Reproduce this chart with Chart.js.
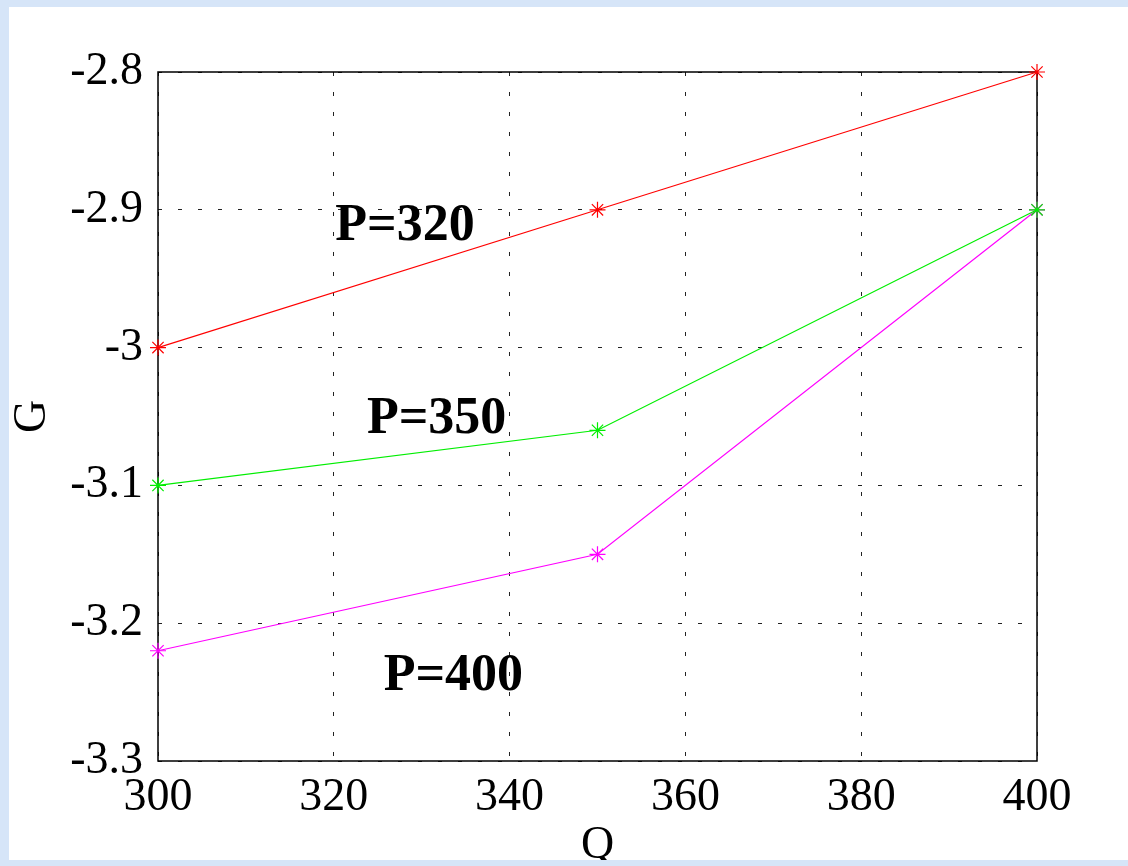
<!DOCTYPE html>
<html>
<head>
<meta charset="utf-8">
<script src="https://cdn.jsdelivr.net/npm/chart.js@4/dist/chart.umd.min.js"></script>
<style>
    html, body { margin: 0; padding: 0; }
    body { width: 1128px; height: 866px; background: #d6e5f8; overflow: hidden; position: relative; }
    #panel { position: absolute; left: 9px; top: 7px; width: 1119px; height: 853px; background: #fff; overflow: hidden; }
    #chart { position: absolute; left: 0; top: 0; }
</style>
</head>
<body>
<div id="panel"><canvas id="chart" width="1119" height="870"></canvas></div>
<script>
// Q values on the x axis
const qValues = [300, 350, 400];
// G for each pressure curve
const g320 = [-3.0, -2.9, -2.8];
const g350 = [-3.1, -3.06, -2.9];
const g400 = [-3.22, -3.15, -2.9];

// text labels placed in data space
const curveNames = ['P=320', 'P=350', 'P=400'];
const nameQ = [328.1, 331.7, 333.6];
const nameG = [-2.9125, -3.052, -3.239];

const serif = "'Liberation Serif', 'Times New Roman', serif";

function pts(ys) {
    return qValues.map((q, i) => ({ x: q, y: ys[i] }));
}

function series(label, ys, color) {
    return {
        label,
        data: pts(ys),
        showLine: true,
        clip: false,
        borderColor: color,
        backgroundColor: color,
        borderWidth: 1.2,
        pointStyle: 'star',
        pointRadius: 8,
        pointBorderWidth: 1.2,
        pointBorderColor: color,
    };
}

// box round the plot + curve names
const boxAndNames = {
    id: 'boxAndNames',
    beforeDatasetsDraw(chart) {
        const { ctx, chartArea: a } = chart;
        ctx.save();
        ctx.strokeStyle = '#000';
        ctx.lineWidth = 1.5;
        ctx.strokeRect(a.left, a.top, a.right - a.left, a.bottom - a.top);
        ctx.restore();
    },
    afterDraw(chart) {
        const { ctx, scales } = chart;
        ctx.save();
        ctx.fillStyle = '#000';
        ctx.font = 'bold 52px ' + serif;
        ctx.textAlign = 'center';
        ctx.textBaseline = 'middle';
        curveNames.forEach((t, i) => {
            ctx.fillText(t, scales.x.getPixelForValue(nameQ[i]), scales.y.getPixelForValue(nameG[i]));
        });
        ctx.restore();
    }
};

const gridOpts = {
    color: '#222',
    lineWidth: 1,
    drawTicks: false,
};
const dashed = { display: false, dash: [4, 16] };

new Chart(document.getElementById('chart'), {
    type: 'scatter',
    data: {
        datasets: [
            series('P=320', g320, '#ff0000'),
            series('P=350', g350, '#00ee00'),
            series('P=400', g400, '#ff00ff'),
        ]
    },
    options: {
        responsive: false,
        animation: false,
        devicePixelRatio: 1,
        layout: { padding: { top: 65, right: 91, left: 0, bottom: 0 } },
        plugins: { legend: { display: false }, tooltip: { enabled: false } },
        scales: {
            x: {
                type: 'linear', min: 300, max: 400,
                grid: gridOpts,
                border: dashed,
                ticks: {
                    stepSize: 20, color: '#000', padding: 9,
                    font: { family: serif, size: 46 }, maxRotation: 0,
                },
                title: {
                    display: true, text: 'Q', color: '#000',
                    font: { family: serif, size: 46, lineHeight: 1 },
                    padding: { top: 0, bottom: 8 },
                },
                afterFit(s) { s.height = 116; }
            },
            y: {
                type: 'linear', min: -3.3, max: -2.8,
                grid: gridOpts,
                border: dashed,
                ticks: {
                    stepSize: 0.1, color: '#000', padding: 15,
                    font: { family: serif, size: 46 },
                    callback: v => String(Math.round(v * 10) / 10),
                },
                title: {
                    display: true, text: 'G', color: '#000',
                    font: { family: serif, size: 46, lineHeight: 1 },
                    padding: { top: 1, bottom: 0 },
                },
                afterFit(s) { s.width = 149; }
            }
        }
    },
    plugins: [boxAndNames]
});
</script>
</body>
</html>
